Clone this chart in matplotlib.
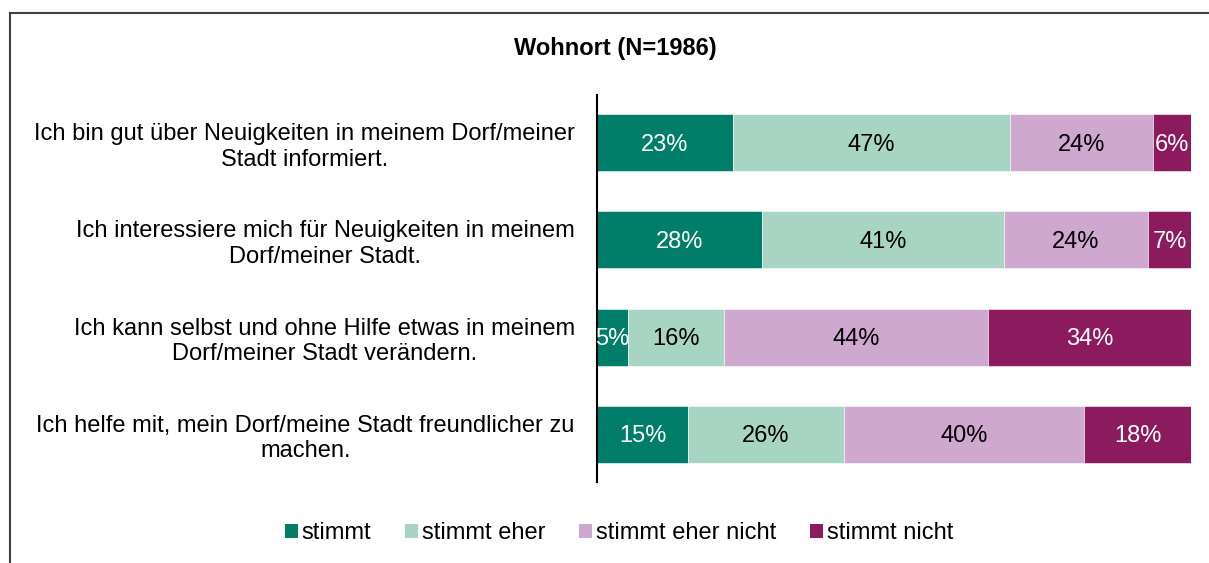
import matplotlib
matplotlib.use("Agg")
import matplotlib.pyplot as plt
from matplotlib.patches import Patch
from matplotlib.lines import Line2D

plt.rcParams['font.family'] = ['Liberation Sans', 'DejaVu Sans']

title = "Wohnort (N=1986)"
categories = [
    "Ich bin gut über Neuigkeiten in meinem Dorf/meiner\nStadt informiert.",
    "Ich interessiere mich für Neuigkeiten in meinem\nDorf/meiner Stadt.",
    "Ich kann selbst und ohne Hilfe etwas in meinem\nDorf/meiner Stadt verändern.",
    "Ich helfe mit, mein Dorf/meine Stadt freundlicher zu\nmachen.",
]
series_names = ["stimmt", "stimmt eher", "stimmt eher nicht", "stimmt nicht"]
stimmt = [22.9, 27.8, 5.2, 15.3]
stimmt_eher = [46.6, 40.7, 16.2, 26.3]
stimmt_eher_nicht = [24.1, 24.3, 44.4, 40.4]
stimmt_nicht = [6.4, 7.2, 34.2, 18.0]
labels = [
    ["23%", "47%", "24%", "6%"],
    ["28%", "41%", "24%", "7%"],
    ["5%", "16%", "44%", "34%"],
    ["15%", "26%", "40%", "18%"],
]

colors = ["#007E6A", "#A8D5C3", "#CFA8CF", "#8B1A5E"]
text_colors = ["white", "black", "black", "white"]

fig = plt.figure(figsize=(12.09, 5.63), dpi=100)
ax = fig.add_axes([597/1209, 1-482/563, 594/1209, 387/563])

series = [stimmt, stimmt_eher, stimmt_eher_nicht, stimmt_nicht]
ypos = list(range(len(categories)))
left = [0.0]*len(categories)
for si, vals in enumerate(series):
    ax.barh(ypos, vals, left=left, height=0.585, color=colors[si],
            edgecolor='white', linewidth=0.4)
    for i, v in enumerate(vals):
        ax.text(left[i] + v/2, ypos[i] + 0.02, labels[i][si], ha='center', va='center',
                fontsize=17, color=text_colors[si])
    left = [l + v for l, v in zip(left, vals)]

ax.set_xlim(0, 100)
ax.set_ylim(3.49, -0.49)
ax.set_yticks(ypos)
ax.set_yticklabels(categories, fontsize=17, multialignment='center')
ax.tick_params(axis='y', length=0, pad=16)
ax.set_xticks([])
for s in ['top', 'right', 'bottom']:
    ax.spines[s].set_visible(False)
ax.spines['left'].set_linewidth(1.5)
ax.spines['left'].set_color('black')

fig.text(615/1209, 1-49/563, title, ha='center', va='center',
         fontsize=17, fontweight='bold')

handles = [Patch(facecolor=c, edgecolor='none') for c in colors]
fig.legend(handles, series_names, loc='center', bbox_to_anchor=(619/1209, 1-533/563),
           ncol=4, frameon=False, fontsize=17, handlelength=0.55, handleheight=0.55,
           handletextpad=0.15, columnspacing=1.45)

# outer frame (top and left visible)
fig.add_artist(Line2D([10/1209, 1.0], [1-13/563, 1-13/563], color='#404040', lw=1.5,
                      transform=fig.transFigure))
fig.add_artist(Line2D([10/1209, 10/1209], [1-13/563, 0.0], color='#404040', lw=1.5,
                      transform=fig.transFigure))

fig.savefig("out.png", dpi=100)
